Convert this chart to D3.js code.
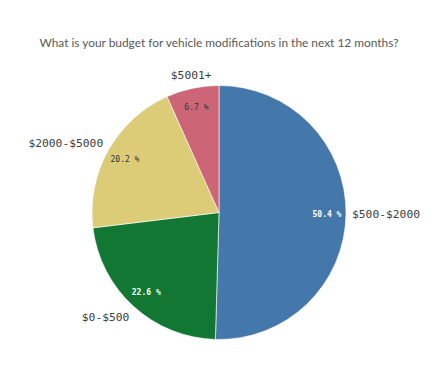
<!DOCTYPE html>
<html><head><meta charset="utf-8">
<script src="https://cdn.jsdelivr.net/npm/d3@7"></script>
<style>body{margin:0;background:#fff}svg{display:block}</style>
</head><body>
<script>
const title = "What is your budget for vehicle modifications in the next 12 months?";
const categories = ["$500-$2000", "$0-$500", "$2000-$5000", "$5001+"];
const values = [50.4, 22.6, 20.2, 6.7];
const colors = ["#4477aa", "#117733", "#ddcc77", "#cc6677"];
const pctColors = ["#ffffff", "#ffffff", "#333333", "#333333"];

const W = 444, H = 366, cx = 219, cy = 212.5, R = 127;
const svg = d3.select("body").append("svg").attr("width", W).attr("height", H);

svg.append("text").attr("x", 219).attr("y", 47).attr("text-anchor", "middle")
  .attr("font-family", "Lato, 'Open Sans', sans-serif").attr("font-size", 11.9)
  .attr("fill", "#595959").text(title);

const data = categories.map((c, i) => ({c, v: values[i], i}));
const pie = d3.pie().value(d => d.v).sort(null);
const arcs = pie(data);
const arc = d3.arc().innerRadius(0).outerRadius(R);
const inner = d3.arc().innerRadius(108).outerRadius(108);
const mid = d => (d.startAngle + d.endAngle) / 2;

const g = svg.append("g").attr("transform", `translate(${cx},${cy})`);
g.selectAll("path").data(arcs).join("path")
  .attr("d", arc).attr("fill", d => colors[d.data.i])
  .attr("stroke", "#fff").attr("stroke-width", 0.6);

g.selectAll("text.pct").data(arcs).join("text").attr("class", "pct")
  .attr("transform", d => `translate(${inner.centroid(d)})`)
  .attr("text-anchor", "middle").attr("dy", "0.35em")
  .attr("font-family", "'DejaVu Sans Mono', monospace").attr("font-size", 8)
  .attr("font-weight", d => pctColors[d.data.i] === "#ffffff" ? "bold" : "normal")
  .attr("fill", d => pctColors[d.data.i])
  .text(d => d.data.v.toFixed(1) + " %");

g.selectAll("text.lab").data(arcs).join("text").attr("class", "lab")
  .attr("x", d => Math.sin(mid(d)) * 133)
  .attr("y", d => -Math.cos(mid(d)) * 141)
  .attr("text-anchor", d => {
    const s = Math.sin(mid(d));
    return Math.abs(s) < 0.3 ? "middle" : (s > 0 ? "start" : "end");
  })
  .attr("dy", "0.35em")
  .attr("font-family", "'DejaVu Sans Mono', monospace").attr("font-size", 11.3)
  .attr("fill", "#404040")
  .text(d => d.data.c);
</script>
</body></html>
